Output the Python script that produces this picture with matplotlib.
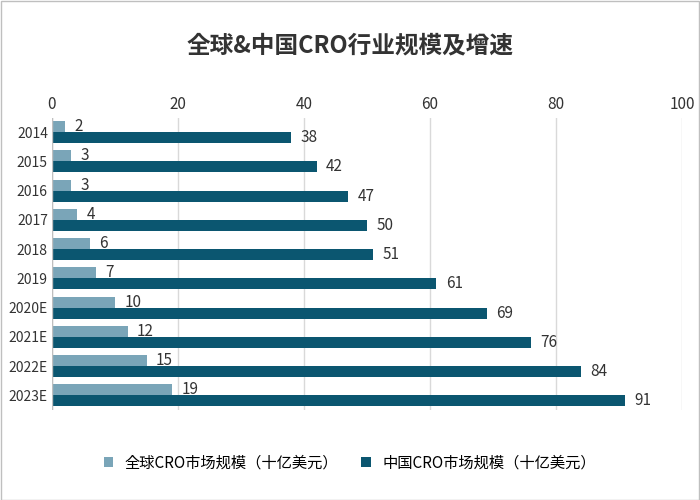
import matplotlib.pyplot as plt
from matplotlib import font_manager
import numpy as np

names = {f.name for f in font_manager.fontManager.ttflist}
cjk = [n for n in ['Noto Sans CJK SC', 'Noto Sans CJK JP', 'Noto Sans CJK TC', 'Noto Sans CJK KR'] if n in names]
plt.rcParams['font.family'] = cjk + ['DejaVu Sans']

years = ['2014', '2015', '2016', '2017', '2018', '2019', '2020E', '2021E', '2022E', '2023E']
global_cro = [2, 3, 3, 4, 6, 7, 10, 12, 15, 19]
china_cro = [38, 42, 47, 50, 51, 61, 69, 76, 84, 91]
light = '#7aa5b8'
dark = '#0b5670'

fig = plt.figure(figsize=(7, 5), dpi=100)
ax = fig.add_axes([52/700, 0.18, 630/700, 0.585])
y = np.arange(len(years))
h = 0.38
b1 = ax.barh(y - h/2, global_cro, h, color=light, label='全球CRO市场规模（十亿美元）')
b2 = ax.barh(y + h/2, china_cro, h, color=dark, label='中国CRO市场规模（十亿美元）')
for bars, vals in ((b1, global_cro), (b2, china_cro)):
    for r, v in zip(bars, vals):
        ax.text(r.get_width() + 1.5, r.get_y() + r.get_height()/2, str(v),
                va='center', ha='left', fontsize=11, color='#333333')
ax.set_xlim(0, 100)
ax.set_ylim(len(years) - 0.5, -0.5)
ax.set_yticks(y)
ax.set_yticklabels(years, fontsize=10)
ax.set_xticks(range(0, 101, 20))
ax.xaxis.tick_top()
ax.tick_params(axis='x', labelsize=11, length=0, colors='#333333')
ax.tick_params(axis='y', length=0, colors='#333333', pad=3)
ax.grid(axis='x', color='#d9d9d9', linewidth=1)
ax.set_axisbelow(True)
for s in ax.spines.values():
    s.set_visible(False)
ax.axvline(0, color='#bfbfbf', linewidth=1)

fig.text(0.5, 0.91, '全球&中国CRO行业规模及增速', ha='center', va='center',
         fontsize=17, fontweight='bold', color='#333333')
fig.legend(loc='lower center', bbox_to_anchor=(0.5, 0.03), ncol=2, frameon=False,
           fontsize=11, handlelength=0.6, handleheight=0.6, columnspacing=1.5)
fig.patches.append(plt.Rectangle((0.001, 0.001), 0.998, 0.998, transform=fig.transFigure,
                                 fill=False, edgecolor='#bfbfbf', linewidth=1))
fig.savefig('out.png')
